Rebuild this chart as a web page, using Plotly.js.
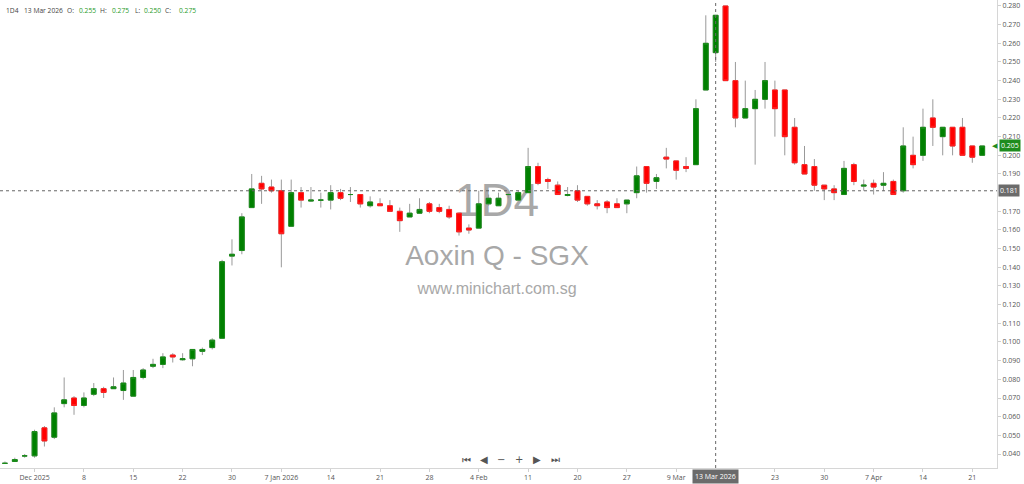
<!DOCTYPE html>
<html><head><meta charset="utf-8">
<script src="https://cdn.plot.ly/plotly-3.0.1.min.js"></script>
<style>html,body{margin:0;padding:0;background:#fff}#chart{width:1024px;height:484px}</style>
</head><body><div id="chart"></div>
<script>
const dates = [
'2025-11-26','2025-11-27','2025-11-28',
'2025-12-01','2025-12-02','2025-12-03','2025-12-04','2025-12-05',
'2025-12-08','2025-12-09','2025-12-10','2025-12-11','2025-12-12',
'2025-12-15','2025-12-16','2025-12-17','2025-12-18','2025-12-19',
'2025-12-22','2025-12-23','2025-12-24','2025-12-26',
'2025-12-29','2025-12-30','2025-12-31',
'2026-01-02',
'2026-01-05','2026-01-06','2026-01-07','2026-01-08','2026-01-09',
'2026-01-12','2026-01-13','2026-01-14','2026-01-15','2026-01-16',
'2026-01-19','2026-01-20','2026-01-21','2026-01-22','2026-01-23',
'2026-01-26','2026-01-27','2026-01-28','2026-01-29','2026-01-30',
'2026-02-02','2026-02-03','2026-02-04','2026-02-05','2026-02-06',
'2026-02-09','2026-02-10','2026-02-11','2026-02-12','2026-02-13',
'2026-02-16','2026-02-19','2026-02-20',
'2026-02-23','2026-02-24','2026-02-25','2026-02-26','2026-02-27',
'2026-03-03','2026-03-04','2026-03-05','2026-03-06',
'2026-03-09','2026-03-10','2026-03-11','2026-03-12','2026-03-13',
'2026-03-16','2026-03-17','2026-03-18','2026-03-19','2026-03-20',
'2026-03-23','2026-03-24','2026-03-25','2026-03-26','2026-03-27',
'2026-03-30','2026-03-31',
'2026-04-01','2026-04-02',
'2026-04-06','2026-04-07','2026-04-08','2026-04-09','2026-04-10',
'2026-04-13','2026-04-14','2026-04-15','2026-04-16','2026-04-17',
'2026-04-20','2026-04-21','2026-04-22'];

const openP = [
.035,.036,.039,.039,.054,.049,.067,.070,.066,.072,
.075,.075,.074,.071,.081,.087,.088,.093,.0905,.091,
.095,.097,.102,.146,.149,.172,.185,.183,.181,.162,
.180,.1755,.176,.176,.180,.179,.179,.173,.174,.173,
.170,.167,.169,.174,.172,.171,.169,.161,.161,.174,
.173,.179,.176,.180,.194,.187,.184,.1785,.181,.178,
.174,.175,.174,.174,.180,.194,.186,.199,.197,.194,
.195,.235,.255,.280,.240,.220,.225,.230,.235,.235,
.215,.195,.194,.184,.182,.179,.195,.1835,.185,.184,
.186,.181,.200,.200,.220,.210,.215,.215,.205,.200];

const highP = [
.036,.038,.040,.053,.055,.065,.081,.071,.073,.078,
.076,.081,.085,.085,.086,.091,.094,.094,.094,.096,
.097,.102,.144,.155,.169,.190,.189,.187,.187,.187,
.183,.183,.180,.184,.182,.183,.179,.178,.177,.176,
.172,.174,.177,.175,.174,.173,.169,.163,.181,.179,
.180,.180,.181,.204,.196,.188,.186,.183,.184,.178,
.176,.176,.177,.176,.194,.194,.190,.204,.197,.199,
.230,.275,.275,.280,.250,.240,.235,.250,.240,.235,
.220,.205,.198,.184,.184,.197,.196,.187,.187,.191,
.187,.215,.210,.225,.230,.215,.215,.220,.205,.205];

const lowP = [
.035,.036,.038,.038,.044,.048,.065,.061,.065,.071,
.070,.075,.069,.071,.080,.086,.086,.089,.090,.087,
.093,.096,.102,.141,.147,.172,.174,.180,.140,.162,
.172,.175,.172,.171,.176,.175,.172,.172,.173,.170,
.159,.167,.169,.169,.169,.166,.157,.158,.161,.173,
.173,.177,.176,.180,.184,.182,.179,.178,.175,.173,
.171,.169,.172,.169,.177,.180,.182,.193,.187,.191,
.195,.235,.250,.240,.215,.220,.195,.225,.210,.200,
.195,.190,.181,.176,.176,.179,.184,.181,.179,.181,
.179,.180,.193,.197,.205,.200,.200,.200,.196,.200];

const closeP = [
.035,.037,.039,.052,.047,.062,.069,.066,.070,.075,
.073,.076,.078,.081,.085,.088,.092,.092,.091,.096,
.096,.101,.143,.147,.167,.182,.182,.181,.158,.180,
.176,.176,.176,.180,.177,.179,.174,.175,.173,.170,
.165,.169,.171,.170,.170,.167,.159,.160,.174,.177,
.177,.179,.180,.194,.185,.186,.179,.179,.176,.174,
.173,.172,.172,.176,.189,.185,.188,.198,.192,.193,
.225,.260,.275,.240,.220,.225,.230,.240,.225,.210,
.196,.190,.184,.182,.180,.193,.186,.184,.183,.185,
.179,.205,.195,.215,.215,.215,.205,.200,.199,.205];

const tickDates = ['2025-12-01','2025-12-08','2025-12-15','2025-12-22','2025-12-30','2026-01-07','2026-01-14','2026-01-21','2026-01-28','2026-02-04','2026-02-11','2026-02-20','2026-02-27','2026-03-09','2026-03-23','2026-03-30','2026-04-07','2026-04-14','2026-04-21'];
const tickLabels = ['Dec 2025','8','15','22','30','7 Jan 2026','14','21','28','4 Feb','11','20','27','9 Mar','23','30','7 Apr','14','21'];
const priceTicks = [0.04,0.05,0.06,0.07,0.08,0.09,0.10,0.11,0.12,0.13,0.14,0.15,0.16,0.17,0.19,0.20,0.21,0.22,0.23,0.24,0.25,0.26,0.27,0.28];

const symbol = '1D4';
const stockName = 'Aoxin Q - SGX';
const site = 'www.minichart.com.sg';
const crossDate = '2026-03-13';
const crossLabel = '13 Mar 2026';
const crossPrice = 0.181;

const GREEN = '#008000', RED = '#ff0000', WICK = '#999999';
const ci = dates.indexOf(crossDate);
const lastClose = closeP[closeP.length - 1];
const bodyHigh = openP.map((o, i) => Math.max(o, closeP[i]));
const bodyLow = openP.map((o, i) => Math.min(o, closeP[i]));

const traces = [
  { type: 'scatter', mode: 'text', xaxis: 'x', yaxis: 'y', hoverinfo: 'skip',
    x: [0.4985, 0.4985, 0.4985], y: [0.563, 0.449, 0.381],
    text: [symbol, stockName, site],
    textfont: { family: 'Liberation Sans, Arial, sans-serif', size: [46, 28, 16], color: '#a8a8a8' } },
  { type: 'candlestick', xaxis: 'x2', yaxis: 'y2', x: dates,
    open: openP, high: highP, low: lowP, close: closeP,
    whiskerwidth: 0, width: 0.66, hoverinfo: 'skip',
    increasing: { line: { color: WICK, width: 1 }, fillcolor: 'rgba(0,0,0,0)' },
    decreasing: { line: { color: WICK, width: 1 }, fillcolor: 'rgba(0,0,0,0)' } },
  { type: 'candlestick', xaxis: 'x2', yaxis: 'y2', x: dates,
    open: openP, high: bodyHigh, low: bodyLow, close: closeP,
    whiskerwidth: 0, width: 0.66, hoverinfo: 'skip',
    increasing: { line: { color: '#1a8c1a', width: 1 }, fillcolor: GREEN },
    decreasing: { line: { color: '#ff2020', width: 1 }, fillcolor: RED } }
];

const PW = 997, PH = 468;
const hdrFont = { family: 'Open Sans, sans-serif', size: 6.7, color: '#444' };
const valFont = { family: 'Open Sans, sans-serif', size: 6.7, color: '#1f9a1f' };
const o = openP[ci], h = highP[ci], l = lowP[ci], c = closeP[ci];
const hdr = [
  [symbol, 4, hdrFont], [crossLabel, 22, hdrFont],
  ['O:', 65, hdrFont], [o.toFixed(3), 77, valFont],
  ['H:', 98, hdrFont], [h.toFixed(3), 110, valFont],
  ['L:', 133, hdrFont], [l.toFixed(3), 142, valFont],
  ['C:', 163, hdrFont], [c.toFixed(3), 177, valFont]
];
const annotations = hdr.map(([t, px, f]) => ({
  text: t, xref: 'paper', yref: 'paper', x: px / PW, y: 1 - 10 / PH,
  xanchor: 'left', yanchor: 'middle', showarrow: false, font: f
}));

const navIcons = [['⏮', 466], ['◀', 484], ['−', 501], ['+', 519], ['▶', 537], ['⏭', 555]];
navIcons.forEach(([t, px]) => annotations.push({
  text: t, xref: 'paper', yref: 'paper', x: px / PW, y: 1 - 459 / PH,
  xanchor: 'center', yanchor: 'middle', showarrow: false,
  font: { family: 'DejaVu Sans, sans-serif', size: 10, color: '#555' }
}));

annotations.push({
  text: crossPrice.toFixed(3), xref: 'paper', yref: 'y2', x: 998 / PW, y: crossPrice,
  xanchor: 'left', yanchor: 'middle', showarrow: false, bgcolor: '#6b6b6b', borderpad: 1,
  font: { family: 'Open Sans, sans-serif', size: 7, color: '#fff' }
});
annotations.push({
  text: lastClose.toFixed(3), xref: 'paper', yref: 'y2', x: 999 / PW, y: lastClose,
  xanchor: 'left', yanchor: 'middle', showarrow: false, bgcolor: '#1e8c1e', borderpad: 1,
  font: { family: 'Open Sans, sans-serif', size: 7, color: '#fff' }
});
annotations.push({
  text: '◀', xref: 'paper', yref: 'y2', x: 1000 / PW, y: lastClose,
  xanchor: 'right', yanchor: 'middle', showarrow: false,
  font: { family: 'DejaVu Sans, sans-serif', size: 7, color: '#1e8c1e' }
});
annotations.push({
  text: crossLabel, xref: 'x2', yref: 'paper', x: ci, y: -(477 - PH) / PH,
  xanchor: 'center', yanchor: 'middle', showarrow: false, bgcolor: '#6b6b6b', borderpad: 2,
  font: { family: 'Open Sans, sans-serif', size: 7, color: '#fff' }
});

const shapes = [
  { type: 'line', xref: 'x2', yref: 'paper', x0: ci, x1: ci, y0: 0, y1: 1,
    line: { color: '#666', width: 1, dash: 'dot' } },
  { type: 'line', xref: 'paper', yref: 'y2', x0: 0, x1: 1, y0: crossPrice, y1: crossPrice,
    line: { color: '#666', width: 1, dash: 'dot' } }
];

const axFont = { family: 'Open Sans, sans-serif', size: 7, color: '#555' };
const layout = {
  width: 1024, height: 484,
  margin: { l: 0, r: 27, t: 0, b: 16, pad: 0 },
  paper_bgcolor: '#fff', plot_bgcolor: '#fff', showlegend: false,
  xaxis: { visible: false, range: [0, 1], fixedrange: true },
  yaxis: { visible: false, range: [0, 1], fixedrange: true },
  xaxis2: { overlaying: 'x', anchor: 'y2', type: 'category', range: [-0.5, 100.5],
    tickvals: tickDates, ticktext: tickLabels, showgrid: false, zeroline: false,
    showline: true, linecolor: '#d6d6d6', ticks: 'outside', ticklen: 3, tickcolor: '#cfcfcf',
    tickfont: axFont, rangeslider: { visible: false } },
  yaxis2: { overlaying: 'y', anchor: 'x2', side: 'right', range: [0.0325, 0.2832],
    tickmode: 'array', tickvals: priceTicks, tickformat: '.3f', showgrid: false, zeroline: false,
    showline: true, linecolor: '#d6d6d6', ticks: 'outside', ticklen: 3, tickcolor: '#cfcfcf',
    tickfont: axFont },
  annotations: annotations,
  shapes: shapes,
  hovermode: false
};

Plotly.newPlot('chart', traces, layout, { displayModeBar: false, staticPlot: true });
</script>
</body></html>
